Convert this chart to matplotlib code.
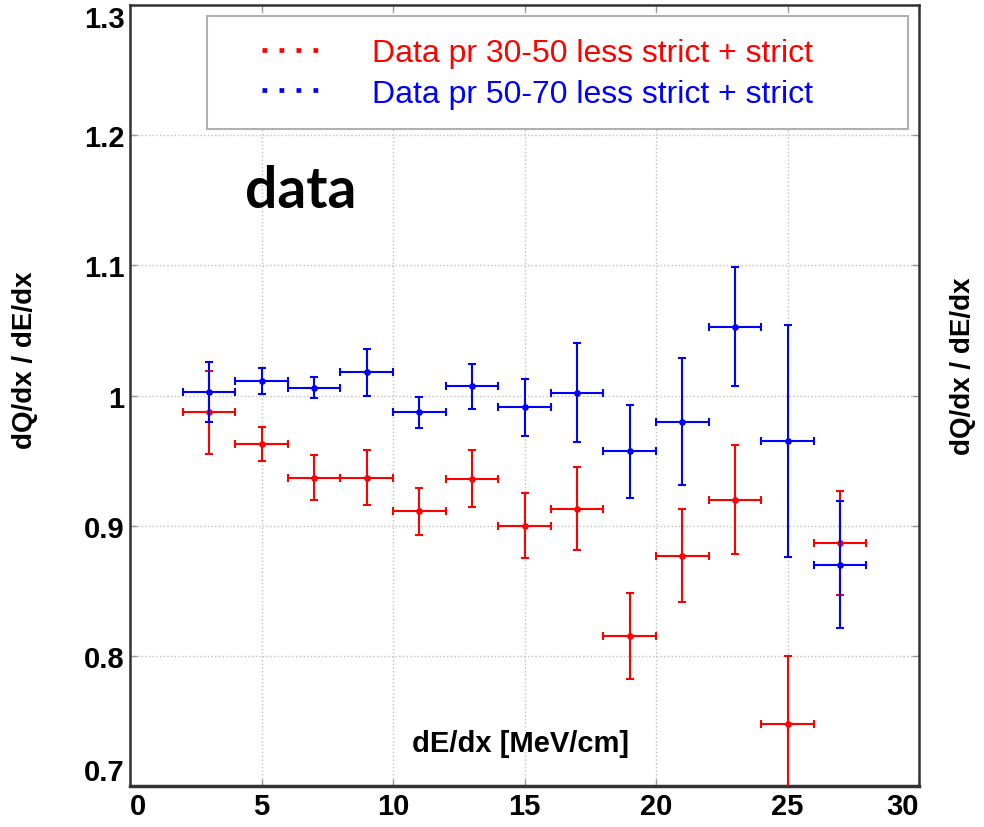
import matplotlib
matplotlib.use('Agg')
import matplotlib.pyplot as plt
from matplotlib.lines import Line2D
from matplotlib.patches import Rectangle

plt.rcParams['font.family'] = ['Liberation Sans', 'DejaVu Sans']

# bin centres (dE/dx, MeV/cm), half bin width 1
x = [3, 5, 7, 9, 11, 13, 15, 17, 19, 21, 23, 25, 27]
x_err = [1] * 13

# Data pr 30-50 less strict + strict
red_y = [0.987, 0.963, 0.937, 0.937, 0.911, 0.936, 0.900, 0.913, 0.815, 0.877, 0.920, 0.748, 0.887]
red_err = [0.032, 0.013, 0.017, 0.021, 0.018, 0.022, 0.025, 0.032, 0.033, 0.036, 0.042, 0.052, 0.040]

# Data pr 50-70 less strict + strict
blue_y = [1.003, 1.011, 1.006, 1.018, 0.987, 1.007, 0.991, 1.002, 0.957, 0.980, 1.053, 0.965, 0.870]
blue_err = [0.023, 0.010, 0.008, 0.018, 0.012, 0.017, 0.022, 0.038, 0.036, 0.049, 0.046, 0.089, 0.049]

labels = ['Data pr 30-50 less strict + strict', 'Data pr 50-70 less strict + strict']

fig = plt.figure(figsize=(9.84, 8.28), dpi=100)
ax = fig.add_axes([130 / 984, 41 / 828, 789 / 984, 781 / 828])

ax.errorbar(x, red_y, xerr=x_err, yerr=red_err, fmt='o', color='#ff0000',
            ms=3.8, lw=1.5, capsize=3, capthick=1.5, zorder=3)
ax.errorbar(x, blue_y, xerr=x_err, yerr=blue_err, fmt='o', color='#0000ff',
            ms=3.8, lw=1.5, capsize=3, capthick=1.5, zorder=4)

ax.set_xlim(0, 30)
ax.set_ylim(0.7, 1.3)
ax.set_xticks([0, 5, 10, 15, 20, 25, 30])
ax.set_yticks([0.7, 0.8, 0.9, 1.0, 1.1, 1.2, 1.3])
ax.set_yticklabels(['0.7', '0.8', '0.9', '1', '1.1', '1.2', '1.3'])
ax.grid(True, ls=':', color='#c0c0c0', lw=1)
ax.tick_params(direction='in', length=5, width=1, color='#999999',
               top=True, right=True, labelsize=21, pad=4)
for lab in ax.get_xticklabels() + ax.get_yticklabels():
    lab.set_fontweight('bold')
xl = ax.get_xticklabels()
xl[0].set_ha('left')
xl[-1].set_ha('right')
yl = ax.get_yticklabels()
yl[0].set_va('bottom')
yl[-1].set_va('top')

for s in ax.spines.values():
    s.set_color('#333333')
    s.set_linewidth(1.8)
ax.spines['bottom'].set_linewidth(2.5)

# legend box
ax.add_patch(Rectangle((0.0976, 0.841), 0.888, 0.145, transform=ax.transAxes,
                       facecolor='white', edgecolor='#b0b0b0', lw=1.5, zorder=5))
handles = [Line2D([], [], color='#ff0000', ls=(0, (1, 2.6)), lw=3.4),
           Line2D([], [], color='#0000ff', ls=(0, (1, 2.6)), lw=3.4)]
leg = ax.legend(handles, labels, loc='upper left', bbox_to_anchor=(0.167, 0.958),
                frameon=False, fontsize=23, handlelength=1.75, handletextpad=1.7,
                labelspacing=0.34, borderpad=0, borderaxespad=0)
leg.set_zorder(6)
for t, c in zip(leg.get_texts(), ['#ff0000', '#0000ff']):
    t.set_color(c)

fig.text(245 / 984, 1 - 208 / 828, 'data', family=['Lato', 'DejaVu Sans'],
         fontweight='bold', fontsize=41, va='baseline', ha='left')
fig.text(521 / 984, 1 - 752 / 828, 'dE/dx [MeV/cm]', fontweight='bold',
         fontsize=21, va='baseline', ha='center')
fig.text(25 / 984, 1 - 360 / 828, 'dQ/dx / dE/dx', fontweight='bold',
         fontsize=20, rotation=90, va='center', ha='center')
fig.text(963 / 984, 1 - 366 / 828, 'dQ/dx / dE/dx', fontweight='bold',
         fontsize=20, rotation=90, va='center', ha='center')

fig.savefig('out.png', dpi=100)
